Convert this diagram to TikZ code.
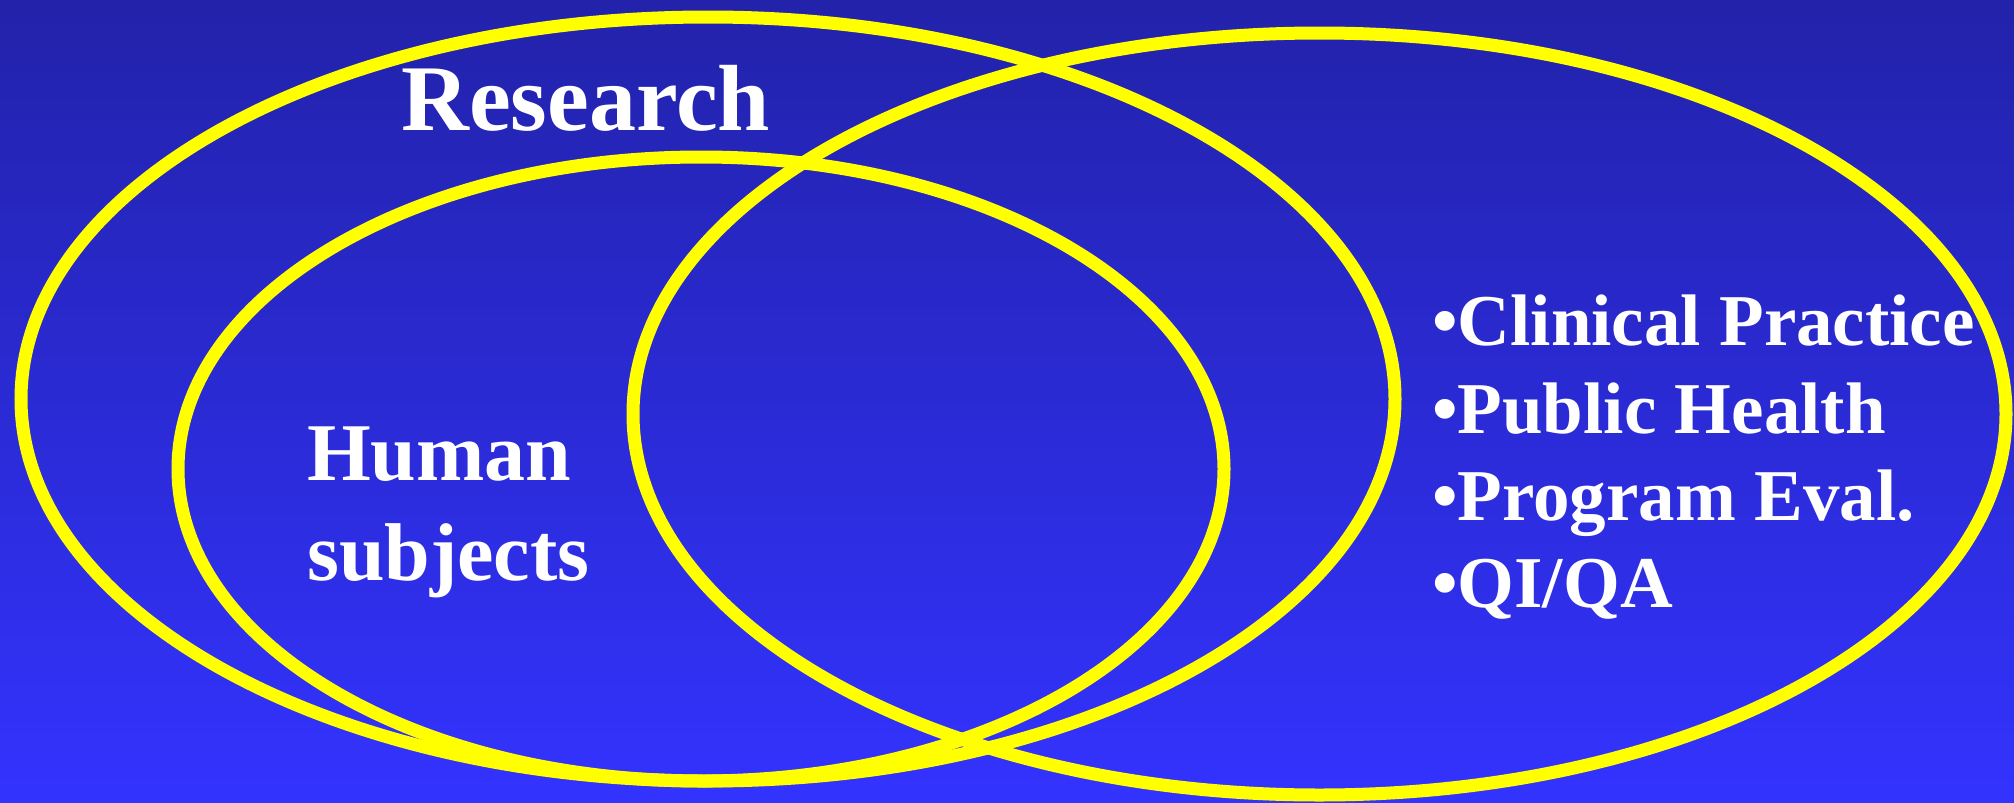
\documentclass[tikz,border=0pt]{standalone}
\usepackage{fontspec}
\setmainfont{Liberation Serif}
\definecolor{bgtop}{HTML}{2222AA}
\definecolor{bgbot}{HTML}{3333FF}
\definecolor{ring}{HTML}{FFFF00}
\begin{document}
\begin{tikzpicture}[x=1pt,y=-1pt,
  ringline/.style={draw=ring,line width=13pt},
  label/.style={text=white,inner sep=0pt,anchor=base west,font=\bfseries},
  bigtext/.style={label,font=\bfseries\fontsize{94}{100}\selectfont},
  midtext/.style={label,font=\bfseries\fontsize{82}{100}\selectfont},
  listtext/.style={label,font=\bfseries\fontsize{73}{88}\selectfont}]
\useasboundingbox (0,0) rectangle (2014,803);
\shade[top color=bgtop,bottom color=bgbot] (0,0) rectangle (2014,803);
% ellipses
\draw[ringline] (708,399) ellipse [x radius=687pt,y radius=382pt];
\draw[ringline] (701,469) ellipse [x radius=523pt,y radius=312pt];
\draw[ringline] (1319.5,414) ellipse [x radius=686.5pt,y radius=381pt];
% texts
\node[bigtext] (research) at (401,130) {Research};
\node[midtext] (human) at (307,480) {Human};
\node[midtext] (subjects) at (307,580) {subjects};
\node[listtext] (l1) at (1432,345) {•Clinical Practice};
\node[listtext] (l2) at (1432,433) {•Public Health};
\node[listtext] (l3) at (1432,520) {•Program Eval.};
\node[listtext] (l4) at (1432,607) {•QI/QA};
\end{tikzpicture}
\end{document}
